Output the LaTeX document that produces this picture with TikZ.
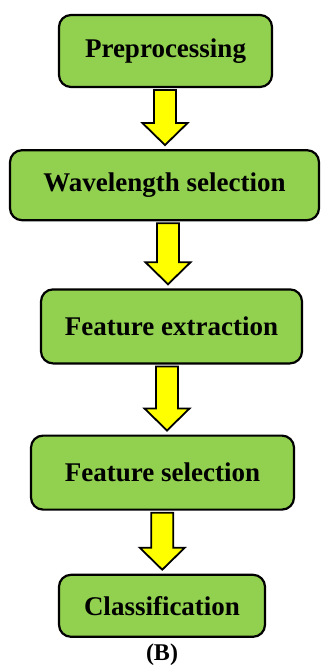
\documentclass[tikz,border=0pt]{standalone}
\usepackage{fontspec}
\setmainfont{Liberation Serif}
\usetikzlibrary{positioning,calc}

\definecolor{stepgreen}{HTML}{92D050}
\definecolor{arrowyellow}{HTML}{FFFF00}

% yellow block arrow between two stacked boxes
\newcommand{\flowarrow}[2]{%
  \draw[blockarrow] let \p1=(#1.south), \p2=(#2.north), \n1={(\x1+\x2)/2} in
    (\n1-11pt,\y1-2pt) -- (\n1-11pt,\y2+26pt) -- (\n1-22.5pt,\y2+26pt)
    -- (\n1,\y2+4pt) -- (\n1+22.5pt,\y2+26pt) -- (\n1+11pt,\y2+26pt)
    -- (\n1+11pt,\y1-2pt) -- cycle;}

\begin{document}
\begin{tikzpicture}[
   stepbox/.style={draw,line width=2.2pt,rounded corners=12pt,fill=stepgreen,
                   align=center,font=\fontsize{27}{30}\selectfont\bfseries,inner sep=0pt},
   blockarrow/.style={draw,line width=1.8pt,fill=arrowyellow,line join=miter}]
  \useasboundingbox (0,0) rectangle (321pt,-666pt);
  \node[stepbox,minimum width=213pt,minimum height=72pt] (pre) at (165.5pt,-51pt) {Preprocessing};
  \node[stepbox,minimum width=309pt,minimum height=70pt,below=61pt of pre,xshift=-1pt] (wave) {Wavelength selection};
  \node[stepbox,minimum width=261pt,minimum height=74pt,below=67pt of wave,xshift=7pt] (fext) {Feature extraction};
  \node[stepbox,minimum width=263pt,minimum height=74pt,below=70pt of fext,xshift=-9pt] (fsel) {Feature selection};
  \node[stepbox,minimum width=206pt,minimum height=62pt,below=63pt of fsel,xshift=-0.5pt] (cls) {Classification};
  \node[below=6pt of cls,inner sep=0pt,font=\fontsize{24}{28}\selectfont\bfseries] (lbl) {(B)};
  \flowarrow{pre}{wave}
  \flowarrow{wave}{fext}
  \flowarrow{fext}{fsel}
  \flowarrow{fsel}{cls}
\end{tikzpicture}
\end{document}
